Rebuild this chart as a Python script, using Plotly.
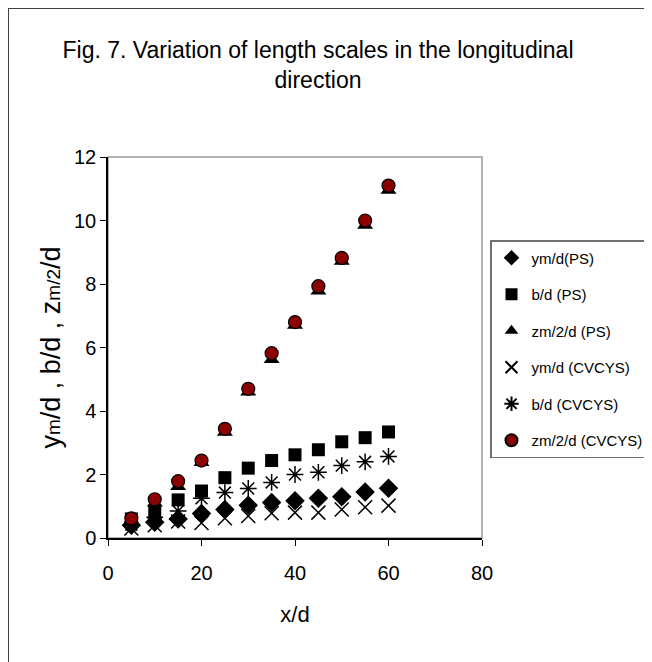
import plotly.graph_objects as go

x_vals = [5, 10, 15, 20, 25, 30, 35, 40, 45, 50, 55, 60]

ym_ps = [0.40, 0.50, 0.60, 0.77, 0.90, 1.03, 1.12, 1.17, 1.25, 1.30, 1.45, 1.57]
b_ps = [0.60, 0.85, 1.20, 1.48, 1.90, 2.20, 2.44, 2.62, 2.78, 3.03, 3.16, 3.34]
zm_ps = [0.55, 1.10, 1.62, 2.38, 3.33, 4.60, 5.62, 6.70, 7.78, 8.72, 9.85, 10.95]
ym_cv = [0.30, 0.40, 0.52, 0.47, 0.62, 0.69, 0.78, 0.80, 0.80, 0.90, 0.97, 1.02]
b_cv = [0.42, 0.65, 0.85, 1.25, 1.43, 1.56, 1.75, 2.00, 2.07, 2.28, 2.40, 2.57]
zm_cv = [0.62, 1.22, 1.79, 2.44, 3.44, 4.70, 5.82, 6.80, 7.93, 8.82, 10.00, 11.10]

names = ["ym/d(PS)", "b/d (PS)", "zm/2/d (PS)", "ym/d (CVCYS)", "b/d (CVCYS)", "zm/2/d (CVCYS)"]

FONT = "Liberation Sans, Arial, sans-serif"

fig = go.Figure()

styles = [
    (ym_ps, dict(symbol="diamond", size=15, color="black")),
    (b_ps, dict(symbol="square", size=13, color="black")),
    (zm_ps, dict(symbol="triangle-up", size=14, color="black")),
    (ym_cv, dict(symbol="x-thin-open", size=14, color="black", line=dict(width=1.5, color="black"))),
    (b_cv, dict(symbol="asterisk-open", size=14, color="black", line=dict(width=1.5, color="black"))),
    (zm_cv, dict(symbol="circle", size=13, color="#8B0000", line=dict(width=1.2, color="black"))),
]

for i, (vals, mk) in enumerate(styles):
    fig.add_trace(go.Scatter(
        x=x_vals, y=vals, mode="markers", name=names[i],
        marker=mk, legendgroup=str(i),
    ))

W, H = 652, 662
L, R, T, B = 100, 474, 149, 530
pw, ph = R - L, B - T

def px(xp):
    return (xp - L) / pw

def py(yp):
    return (B - yp) / ph

# outer frame
fig.add_shape(type="rect", xref="paper", yref="paper",
              x0=px(0), x1=px(640), y0=py(668), y1=py(0),
              line=dict(color="#404040", width=2), layer="below")
# plot box (grey top/right)
fig.add_shape(type="rect", xref="paper", yref="paper",
              x0=0, x1=1, y0=0, y1=1,
              line=dict(color="#9a9a9a", width=1.5), layer="below")

fig.update_layout(
    width=W, height=H,
    margin=dict(l=L, r=W - R, t=T, b=H - B, autoexpand=False),
    paper_bgcolor="white", plot_bgcolor="white",
    font=dict(family=FONT, color="black"),
    title=dict(
        text="Fig. 7. Variation of length scales in the longitudinal<br>direction",
        xref="container", x=310 / W, xanchor="center",
        yref="container", y=1 - 50 / H, yanchor="middle",
        font=dict(size=23, family=FONT),
    ),
    showlegend=True,
    legend=dict(
        x=px(482), xanchor="left", y=py(232), yanchor="top",
        bordercolor="#707070", borderwidth=1.5, bgcolor="white",
        font=dict(size=15, family=FONT),
        tracegroupgap=14, traceorder="grouped",
        itemsizing="constant", itemwidth=30,
    ),
    xaxis=dict(
        range=[0, 80], tickvals=[0, 20, 40, 60, 80], showgrid=False, zeroline=False,
        showline=True, linecolor="black", linewidth=1.5,
        ticks="outside", ticklen=6, tickcolor="black",
        tickfont=dict(size=20, family=FONT), ticklabelstandoff=10,
        title=dict(text="x/d", font=dict(size=22, family=FONT), standoff=24),
    ),
    yaxis=dict(
        range=[0, 12], tickvals=[0, 2, 4, 6, 8, 10, 12], showgrid=False, zeroline=False,
        showline=True, linecolor="black", linewidth=1.5,
        ticks="outside", ticklen=6, tickcolor="black",
        tickfont=dict(size=20, family=FONT),
        title=dict(
            text="y<span style='font-size:19px'>m</span>/d , b/d , z<span style='font-size:19px'>m/2</span>/d",
            font=dict(size=27, family=FONT), standoff=6,
        ),
    ),
)

fig.write_html("out.html")
